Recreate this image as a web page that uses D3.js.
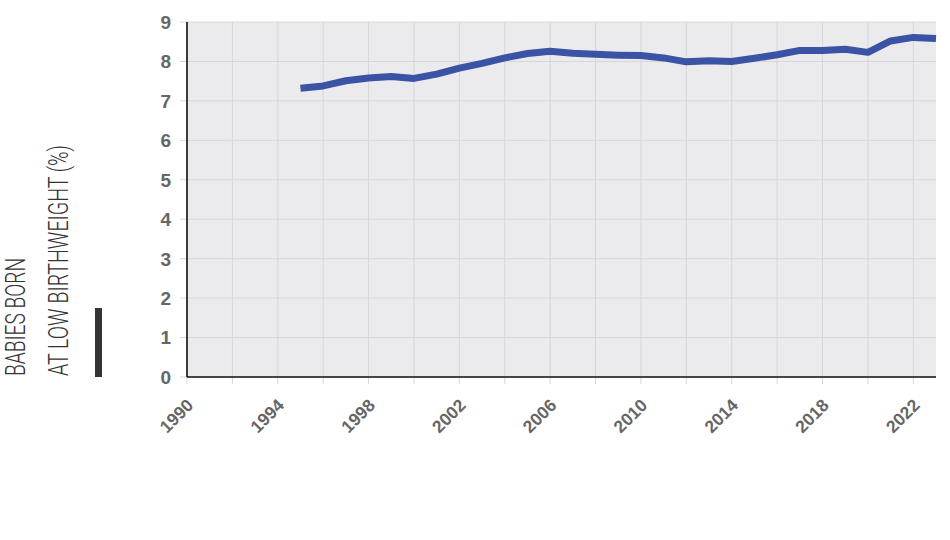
<!DOCTYPE html>
<html>
<head>
<meta charset="utf-8">
<script src="https://cdn.jsdelivr.net/npm/d3@7"></script>
<style>
  html, body { margin: 0; padding: 0; background: #fff; }
  svg { display: block; }
</style>
</head>
<body>
<div id="chart"></div>
<script>
// Données
const years = [1995, 1996, 1997, 1998, 1999, 2000, 2001, 2002, 2003, 2004,
               2005, 2006, 2007, 2008, 2009, 2010, 2011, 2012, 2013, 2014,
               2015, 2016, 2017, 2018, 2019, 2020, 2021, 2022, 2023];
const lowBirthweight = [7.32, 7.38, 7.51, 7.58, 7.62, 7.57, 7.68, 7.83, 7.95, 8.09,
                        8.20, 8.26, 8.21, 8.18, 8.16, 8.15, 8.09, 7.99, 8.02, 8.00,
                        8.08, 8.17, 8.28, 8.28, 8.31, 8.23, 8.52, 8.61, 8.58];
const xTicks = [1990, 1994, 1998, 2002, 2006, 2010, 2014, 2018, 2022];
const yTicks = [0, 1, 2, 3, 4, 5, 6, 7, 8, 9];
const titleLines = ["BABIES BORN", "AT LOW BIRTHWEIGHT (%)"];

const W = 950, H = 540;
const margin = { left: 187, right: 14, top: 22, bottom: 163 };
const innerW = W - margin.left - margin.right;
const innerH = H - margin.top - margin.bottom;

const svg = d3.select("#chart").append("svg")
    .attr("width", W)
    .attr("height", H);

const x = d3.scaleLinear().domain([1990, 2023]).range([0, innerW]);
const y = d3.scaleLinear().domain([0, 9]).range([innerH, 0]);

const g = svg.append("g").attr("transform", `translate(${margin.left},${margin.top})`);

// Fond
g.append("rect")
    .attr("width", innerW)
    .attr("height", innerH)
    .attr("fill", "#ebebee");

// Grille (tous les 2 ans)
const gridYears = d3.range(1990, 2024, 2);
g.selectAll(".vgrid")
    .data(gridYears)
    .enter()
    .append("line")
    .attr("x1", d => x(d)).attr("x2", d => x(d))
    .attr("y1", 0).attr("y2", innerH + 7)
    .attr("stroke", "#d6d6d8")
    .attr("stroke-width", 1);

g.selectAll(".hgrid")
    .data(yTicks)
    .enter()
    .append("line")
    .attr("x1", -7).attr("x2", innerW)
    .attr("y1", d => y(d)).attr("y2", d => y(d))
    .attr("stroke", "#d6d6d8")
    .attr("stroke-width", 1);

// Axes (traits noirs)
g.append("line")
    .attr("x1", 0).attr("x2", 0)
    .attr("y1", 0).attr("y2", innerH)
    .attr("stroke", "#111").attr("stroke-width", 1.6);
g.append("line")
    .attr("x1", 0).attr("x2", innerW)
    .attr("y1", innerH).attr("y2", innerH)
    .attr("stroke", "#111").attr("stroke-width", 1.6);

// Labels Y
g.selectAll(".ylab")
    .data(yTicks)
    .enter()
    .append("text")
    .attr("x", -16)
    .attr("y", d => y(d))
    .attr("dy", "0.36em")
    .attr("text-anchor", "end")
    .style("font-family", "'Liberation Sans', Arial, sans-serif")
    .style("font-weight", "bold")
    .style("font-size", "19px")
    .attr("fill", "#666")
    .text(d => d);

// Labels X (rotation -45)
g.selectAll(".xlab")
    .data(xTicks)
    .enter()
    .append("text")
    .attr("transform", d => `translate(${x(d) + 3},${innerH + 25}) rotate(-45)`)
    .attr("text-anchor", "end")
    .attr("dy", "0.36em")
    .style("font-family", "'Liberation Sans', Arial, sans-serif")
    .style("font-weight", "bold")
    .style("font-size", "17.5px")
    .attr("fill", "#666")
    .text(d => d);

// Courbe
const line = d3.line()
    .x((d, i) => x(years[i]))
    .y(d => y(d));

g.append("path")
    .datum(lowBirthweight)
    .attr("d", line)
    .attr("fill", "none")
    .attr("stroke", "#3a53a4")
    .attr("stroke-width", 7)
    .attr("stroke-linejoin", "round");

// Titre de l'axe Y (police condensée, légère)
const titleLengths = [118, 231];
const title = svg.append("text")
    .attr("transform", `translate(0,${margin.top + innerH - 1}) rotate(-90)`)
    .style("font-family", "Roboto, 'Liberation Sans', sans-serif")
    .style("font-weight", "300")
    .style("font-size", "27px")
    .attr("fill", "#333");
title.selectAll("tspan")
    .data(titleLines)
    .enter()
    .append("tspan")
    .attr("x", 0)
    .attr("y", (d, i) => 25 + i * 43)
    .attr("textLength", (d, i) => titleLengths[i])
    .attr("lengthAdjust", "spacingAndGlyphs")
    .text(d => d);

// Barre noire
svg.append("rect")
    .attr("x", 95)
    .attr("y", 308)
    .attr("width", 7)
    .attr("height", margin.top + innerH - 308)
    .attr("fill", "#333");
</script>
</body>
</html>
